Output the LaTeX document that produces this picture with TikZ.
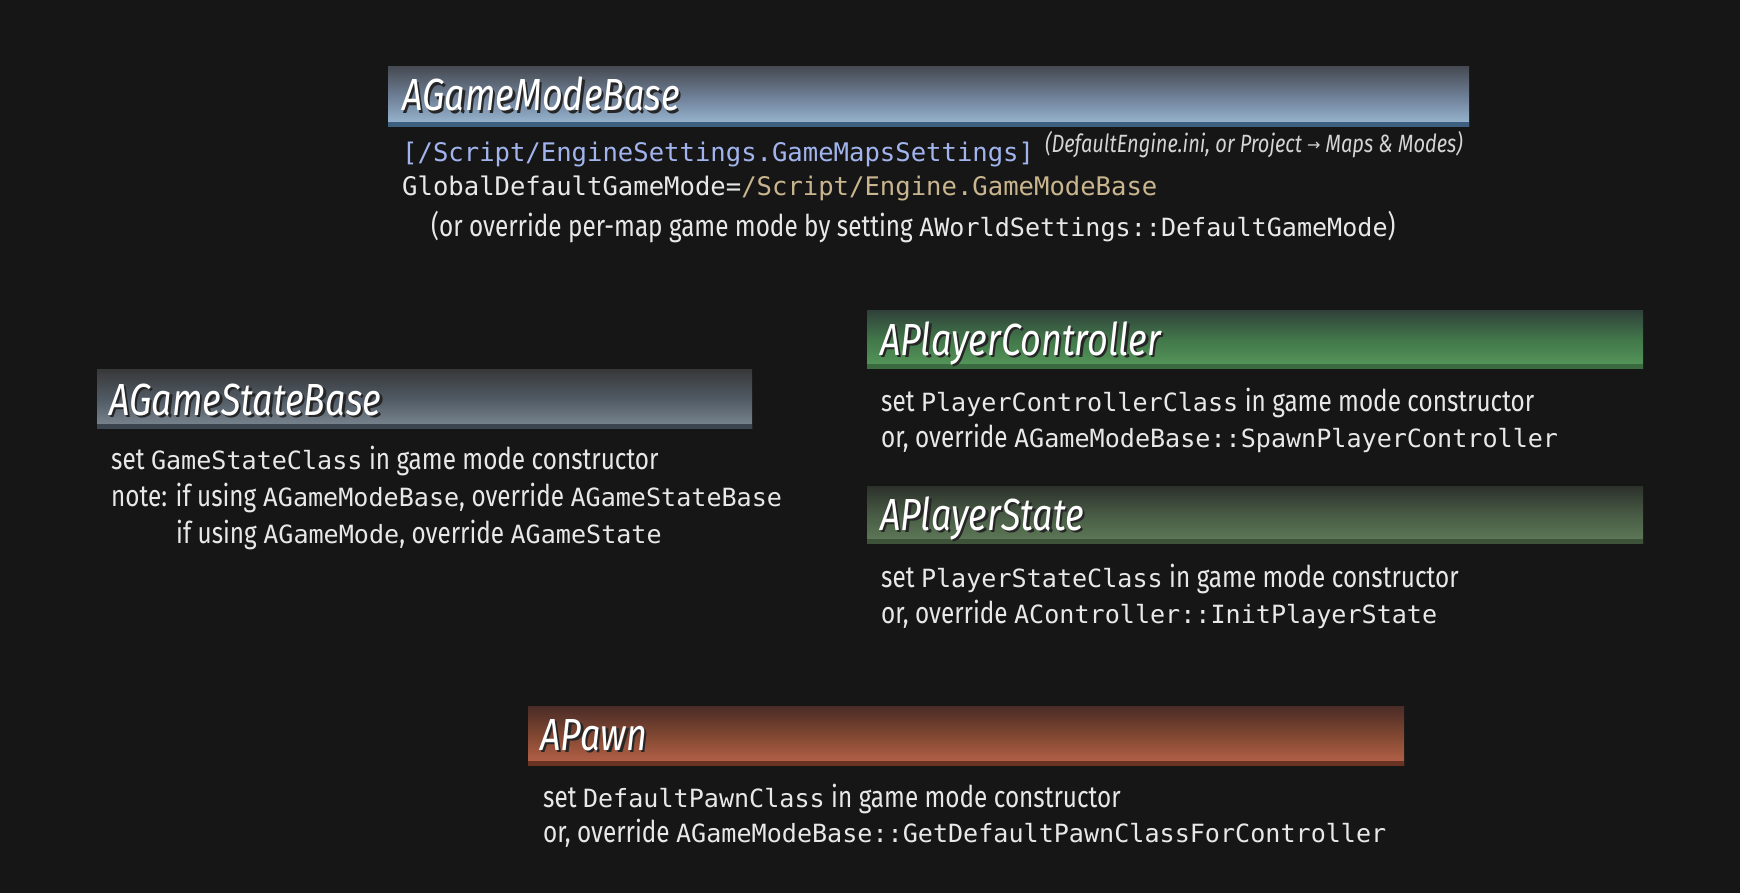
\documentclass[tikz,border=0pt]{standalone}
\usepackage{fontspec}
\newfontfamily\bodyfont{Fira Sans}[FakeStretch=0.81]
\newfontfamily\titlefont{Fira Sans}[FakeStretch=0.80]
\newfontfamily\monofont{DejaVu Sans Mono}
\newfontfamily\symfont{DejaVu Sans}
\definecolor{bgc}{HTML}{161616}
\definecolor{txt}{HTML}{E8E8E8}
\definecolor{cfgblue}{HTML}{A2B4EE}
\definecolor{cfgtan}{HTML}{C9B58E}
\definecolor{notegrey}{HTML}{D4D4D4}
\definecolor{gmA}{HTML}{464A51}\definecolor{gmB}{HTML}{6E7F96}\definecolor{gmC}{HTML}{9CBAD6}\definecolor{gmD}{HTML}{3E6080}
\definecolor{gsA}{HTML}{383839}\definecolor{gsB}{HTML}{505A64}\definecolor{gsC}{HTML}{7C8892}\definecolor{gsD}{HTML}{3A4550}
\definecolor{pcA}{HTML}{30413A}\definecolor{pcB}{HTML}{42774A}\definecolor{pcC}{HTML}{56995B}\definecolor{pcD}{HTML}{3C6A40}
\definecolor{psA}{HTML}{2D312C}\definecolor{psB}{HTML}{485C45}\definecolor{psC}{HTML}{5F7B59}\definecolor{psD}{HTML}{3E5239}
\definecolor{pwA}{HTML}{4A2C27}\definecolor{pwB}{HTML}{824832}\definecolor{pwC}{HTML}{BA634A}\definecolor{pwD}{HTML}{6A3222}
\newcommand\mn[1]{{\monofont\fontsize{25.1}{30}\selectfont #1}}
\newcommand\shd[1]{\rlap{\kern2.5pt\raisebox{-2.5pt}{\color{black!85}#1}}#1}
\tikzset{
  bar/.style n args={3}{draw=none, inner sep=0pt, anchor=north west,
    top color=#1, bottom color=#3, middle color=#2},
  strip/.style={draw=none},
  ttl/.style={inner sep=0pt, anchor=base west, text=white, font=\titlefont\itshape\fontsize{45}{50}\selectfont},
  body/.style={inner sep=0pt, anchor=base west, text=txt, font=\bodyfont\fontsize{30}{34}\selectfont},
  mono/.style={inner sep=0pt, anchor=base west, text=txt, font=\monofont\fontsize{25.6}{30}\selectfont},
  note/.style={inner sep=0pt, anchor=base west, text=notegrey, font=\titlefont\itshape\fontsize{25}{30}\selectfont},
}
\begin{document}
\begin{tikzpicture}[x=1pt,y=-1pt]
\fill[bgc] (0,0) rectangle (1740,893);
% banners
\node[bar={gmA}{gmB}{gmC}, minimum width=1081pt, minimum height=60pt] (gmbar) at (388,66) {};
\node[bar={gsA}{gsB}{gsC}, minimum width=655pt, minimum height=59pt] (gsbar) at (97,369) {};
\node[bar={pcA}{pcB}{pcC}, minimum width=776pt, minimum height=58pt] (pcbar) at (867,310) {};
\node[bar={psA}{psB}{psC}, minimum width=776pt, minimum height=57pt] (psbar) at (867,486) {};
\node[bar={pwA}{pwB}{pwC}, minimum width=876pt, minimum height=59pt] (pwbar) at (528,706) {};
\fill[strip, gmD] ([yshift=-0.7pt]gmbar.south west) rectangle ([yshift=4pt]gmbar.south east);
\fill[strip, gsD] ([yshift=-0.7pt]gsbar.south west) rectangle ([yshift=4pt]gsbar.south east);
\fill[strip, pcD] ([yshift=-0.7pt]pcbar.south west) rectangle ([yshift=4pt]pcbar.south east);
\fill[strip, psD] ([yshift=-0.7pt]psbar.south west) rectangle ([yshift=4pt]psbar.south east);
\fill[strip, pwD] ([yshift=-0.7pt]pwbar.south west) rectangle ([yshift=4pt]pwbar.south east);
% titles
\node[ttl] (gmt) at (402,111) {\shd{AGameModeBase}};
\node[ttl] (gst) at (109,415) {\shd{AGameStateBase}};
\node[ttl] (pct) at (880,355) {\shd{APlayerController}};
\node[ttl] (pst) at (880,530) {\shd{APlayerState}};
\node[ttl] (pwt) at (540,750) {\shd{APawn}};
% game mode text
\node[mono, text=cfgblue] (gm1) at (402,162) {[/Script/EngineSettings.GameMapsSettings]};
\node[note] (gmn) at (1045,153) {(DefaultEngine.ini, or Project {\symfont\fontsize{16}{20}\selectfont\raisebox{2pt}{→}} Maps \& Modes)};
\node[mono] (gm2) at (402,196) {GlobalDefaultGameMode={\color{cfgtan}/Script/Engine.GameModeBase}};
\node[body] (gm3) at (431,237) {(or override per-map game mode by setting \mn{AWorldSettings::DefaultGameMode})};
% game state text
\node[body] (gs1) at (111,469) {set \mn{GameStateClass} in game mode constructor};
\node[body] (gs2) at (111,506) {note: if using \mn{AGameModeBase}, override \mn{AGameStateBase}};
\node[body] (gs3) at (176,543) {if using \mn{AGameMode}, override \mn{AGameState}};
% player controller text
\node[body] (pc1) at (881,411) {set \mn{PlayerControllerClass} in game mode constructor};
\node[body] (pc2) at (881,447) {or, override \mn{AGameModeBase::SpawnPlayerController}};
% player state text
\node[body] (ps1) at (881,587) {set \mn{PlayerStateClass} in game mode constructor};
\node[body] (ps2) at (881,623) {or, override \mn{AController::InitPlayerState}};
% pawn text
\node[body] (pw1) at (543,807) {set \mn{DefaultPawnClass} in game mode constructor};
\node[body] (pw2) at (543,842) {or, override \mn{AGameModeBase::GetDefaultPawnClassForController}};
\end{tikzpicture}
\end{document}
